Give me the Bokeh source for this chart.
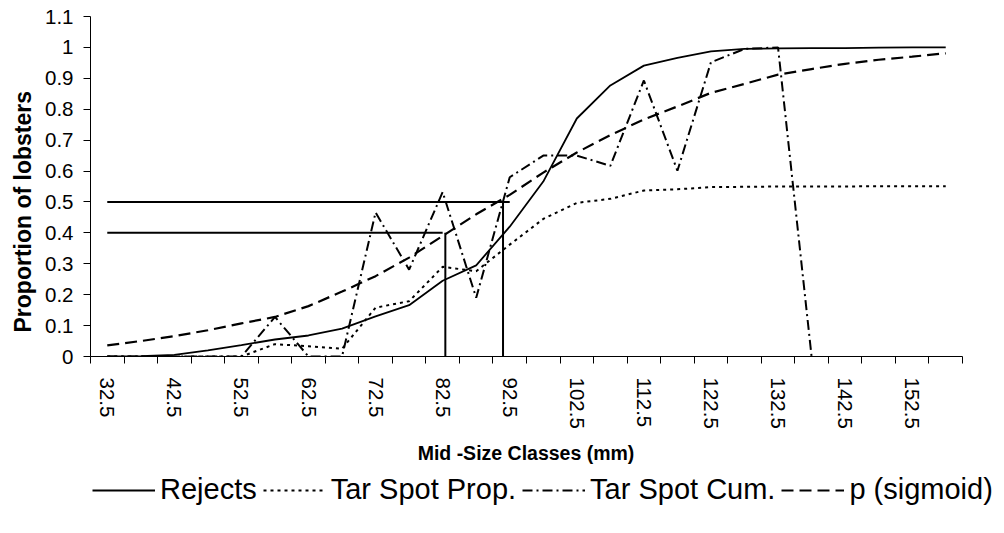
import math
from bokeh.plotting import figure
from bokeh.layouts import column
from bokeh.models import FixedTicker, Legend, LegendItem, Label, Title, Range1d
from bokeh.embed import file_html
from bokeh.resources import INLINE

# ---- data ----
size_classes = [32.5, 37.5, 42.5, 47.5, 52.5, 57.5, 62.5, 67.5, 72.5, 77.5,
                82.5, 87.5, 92.5, 97.5, 102.5, 107.5, 112.5, 117.5, 122.5,
                127.5, 132.5, 137.5, 142.5, 147.5, 152.5, 157.5]
rejects = [0.0, 0.001, 0.005, 0.02, 0.037, 0.055, 0.068, 0.09, 0.13, 0.166,
           0.245, 0.295, 0.42, 0.566, 0.77, 0.877, 0.941, 0.966, 0.987,
           0.995, 0.997, 0.998, 0.998, 0.999, 1.0, 1.0]
tar_spot_prop = [0.0, 0.0, 0.0, 0.0, 0.0, 0.04, 0.033, 0.025, 0.158, 0.179,
                 0.29, 0.276, 0.362, 0.445, 0.497, 0.51, 0.537, 0.541, 0.548,
                 0.549, 0.55, 0.55, 0.55, 0.551, 0.551, 0.551]
tar_spot_cum = [0.0, 0.0, 0.0, 0.0, 0.0, 0.128, 0.0, 0.0, 0.466, 0.281,
                0.532, 0.19, 0.58, 0.65, 0.65, 0.617, 0.893, 0.601, 0.952,
                0.995, 1.0, 0.0]
p_sigmoid = [0.036, 0.05, 0.066, 0.085, 0.107, 0.128, 0.163, 0.21, 0.26, 0.32,
             0.39, 0.46, 0.523, 0.595, 0.66, 0.716, 0.767, 0.809, 0.853,
             0.882, 0.912, 0.93, 0.947, 0.96, 0.97, 0.981]

x_tick_values = [32.5, 42.5, 52.5, 62.5, 72.5, 82.5, 92.5, 102.5, 112.5,
                 122.5, 132.5, 142.5, 152.5]
x_tick_labels = ["32.5", "42.5", "52.5", "62.5", "72.5", "82.5", "92.5",
                 "102.5", "112.5", "122.5", "132.5", "142.5", "152.5"]
class_bounds = [30, 35, 40, 45, 50, 55, 60, 65, 70, 75, 80, 85, 90, 95, 100,
                105, 110, 115, 120, 125, 130, 135, 140, 145, 150, 155, 160]
y_tick_values = [0, 0.1, 0.2, 0.3, 0.4, 0.5, 0.6, 0.7, 0.8, 0.9, 1, 1.1]
y_tick_labels = ["0", "0.1", "0.2", "0.3", "0.4", "0.5", "0.6", "0.7", "0.8",
                 "0.9", "1", "1.1"]

# reference (L40 / L50) lines
ref_levels = [0.4, 0.5]
ref_h_start = [32.5, 32.5]
ref_h_end = [82.5, 92.5]
ref_v_x = [82.9, 91.5]
ref_v_bottom = [0, 0]

FONT = "Liberation Sans"
W, H = 1004, 533
LEFT = 90          # frame left edge (px)
TOP_H = 431        # height of the chart part
PX_PER_MM = 872 / 130.0
X_END = 160 + 42 / PX_PER_MM   # frame runs to the right canvas edge

# ---------------- main chart ----------------
p = figure(width=W, height=TOP_H, output_backend="svg", toolbar_location=None,
           x_range=(30, X_END), y_range=(0, 1.1),
           min_border_left=LEFT, min_border_right=0, min_border_top=16,
           min_border_bottom=TOP_H - 357)
p.outline_line_color = None
p.xgrid.grid_line_color = None
p.ygrid.grid_line_color = None
p.background_fill_color = "white"
p.border_fill_color = "white"

xa = p.xaxis[0]
xa.bounds = (30, 160)
xa.ticker = FixedTicker(ticks=x_tick_values, minor_ticks=class_bounds)
xa.major_label_overrides = dict(zip(x_tick_values, x_tick_labels))
xa.major_label_orientation = -math.pi / 2
xa.major_tick_line_color = None
xa.major_tick_out = 7
xa.major_tick_in = 0
xa.minor_tick_line_color = "black"
xa.minor_tick_out = 7
xa.minor_tick_in = 0
xa.major_label_standoff = 14
xa.major_label_text_font = FONT
xa.major_label_text_font_size = "20.5px"
xa.major_label_text_color = "black"
xa.axis_line_color = "black"

ya = p.yaxis[0]
ya.ticker = FixedTicker(ticks=y_tick_values, minor_ticks=[])
ya.major_label_overrides = dict(zip(y_tick_values, y_tick_labels))
ya.major_tick_out = 7
ya.major_tick_in = 0
ya.major_tick_line_color = "black"
ya.minor_tick_line_color = None
ya.major_label_standoff = 10
ya.major_label_text_font = FONT
ya.major_label_text_font_size = "20.5px"
ya.major_label_text_color = "black"
ya.axis_line_color = "black"

p.add_layout(Title(text="Proportion of lobsters", align="left", offset=24,
                   standoff=14, text_font=FONT, text_font_style="bold",
                   text_font_size="23px", text_color="black"), "left")

styles = [dict(line_width=1.8, line_dash="solid"),
          dict(line_width=2, line_dash="3 4"),
          dict(line_width=2, line_dash="10 4 2 4"),
          dict(line_width=2.2, line_dash="12 6")]
series_x = [size_classes, size_classes, size_classes[:len(tar_spot_cum)],
            size_classes]
series_y = [rejects, tar_spot_prop, tar_spot_cum, p_sigmoid]
series_names = ["Rejects", "Tar Spot Prop.", "Tar Spot Cum.", "p (sigmoid)"]

for xs, ys, st in zip(series_x, series_y, styles):
    p.line(xs, ys, line_color="black", **st)

p.segment(x0=ref_h_start, y0=ref_levels, x1=ref_h_end, y1=ref_levels,
          line_color="black", line_width=2)
p.segment(x0=ref_v_x, y0=ref_levels, x1=ref_v_x, y1=ref_v_bottom,
          line_color="black", line_width=2)

# ---------------- axis title + legend strip ----------------
BOT_H = H - TOP_H
q = figure(width=W, height=BOT_H, output_backend="svg", toolbar_location=None,
           x_range=Range1d(LEFT, W), y_range=Range1d(H, TOP_H),
           x_axis_location=None, y_axis_location=None,
           min_border_left=LEFT, min_border_right=0, min_border_top=0,
           min_border_bottom=0)
q.outline_line_color = None
q.xgrid.grid_line_color = None
q.ygrid.grid_line_color = None
q.background_fill_color = "white"
q.border_fill_color = "white"

q.add_layout(Label(x=525.5, y=452, text="Mid -Size Classes (mm)",
                   text_align="center", text_baseline="alphabetic",
                   text_font=FONT, text_font_style="bold",
                   text_font_size="19.5px", text_color="black"))

proxies = []
for xs, ys, st in zip(series_x, series_y, styles):
    proxies.append(q.line(xs, ys, line_color="black", visible=False, **st))

legend = Legend(items=[LegendItem(label=n, renderers=[r])
                       for n, r in zip(series_names, proxies)],
                orientation="horizontal", location=(2, 27),
                glyph_width=63, label_standoff=5, spacing=6, padding=0,
                margin=0, border_line_color=None, background_fill_alpha=0,
                inactive_fill_alpha=0,
                label_text_font=FONT, label_text_font_size="29px",
                label_text_color="black")
q.add_layout(legend, "center")

layout = column(p, q, spacing=0)
open("out.html", "w").write(file_html(layout, INLINE))
